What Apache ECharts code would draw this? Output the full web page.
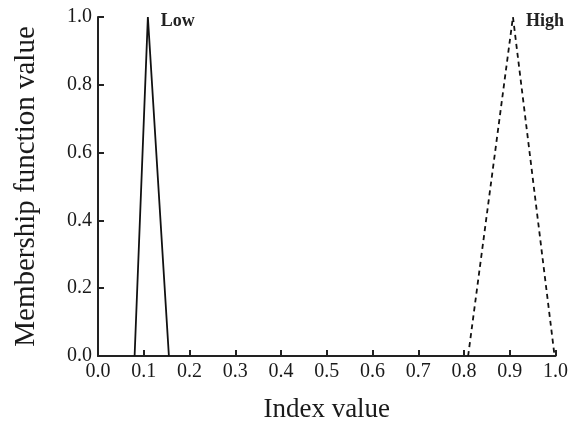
<!DOCTYPE html>
<html><head><meta charset="utf-8">
<script src="https://cdn.jsdelivr.net/npm/echarts@6/dist/echarts.min.js"></script>
<style>html,body{margin:0;padding:0;background:#fff}#c{width:571px;height:428px}</style>
</head><body><div id="c"></div>
<script>
const lowX = [0.08, 0.109, 0.155];
const lowY = [0, 1, 0];
const highX = [0.809, 0.907, 0.998];
const highY = [0, 1, 0];
const seriesNames = ['Low', 'High'];

const font = 'Liberation Serif, Times New Roman, serif';
function pts(xs, ys) { return xs.map((x, i) => [x, ys[i]]); }
function peak(xs, ys, name, dy) {
  const i = ys.indexOf(Math.max(...ys));
  return {
    symbol: 'circle', symbolSize: 0,
    label: { show: true, position: 'right', distance: 13, offset: [0, dy], formatter: name,
             fontFamily: font, fontSize: 18, fontWeight: 'bold', color: '#222' },
    data: [{ coord: [xs[i], ys[i]] }]
  };
}

const chart = echarts.init(document.getElementById('c'));
chart.setOption({
  animation: false,
  grid: { left: 98, right: 13, top: 17, bottom: 72 },
  xAxis: {
    type: 'value', min: 0, max: 1, interval: 0.1,
    name: 'Index value', nameLocation: 'middle', nameGap: 40,
    nameTextStyle: { fontFamily: font, fontSize: 27, color: '#1a1a1a' },
    axisLine: { lineStyle: { color: '#222', width: 2 } },
    axisTick: { inside: true, length: 6, lineStyle: { color: '#222', width: 2 } },
    axisLabel: { fontFamily: font, fontSize: 20, color: '#1a1a1a', margin: 6, formatter: v => v.toFixed(1) },
    splitLine: { show: false }
  },
  yAxis: {
    type: 'value', min: 0, max: 1, interval: 0.2,
    name: 'Membership function value', nameLocation: 'middle', nameGap: 57,
    nameTextStyle: { fontFamily: font, fontSize: 29, color: '#1a1a1a' },
    axisLine: { show: true, lineStyle: { color: '#222', width: 2 } },
    axisTick: { show: true, inside: true, length: 6, lineStyle: { color: '#222', width: 2 } },
    axisLabel: { fontFamily: font, fontSize: 20, color: '#1a1a1a', margin: 6, formatter: v => v.toFixed(1) },
    splitLine: { show: false }
  },
  series: [
    {
      name: seriesNames[0], type: 'line', data: pts(lowX, lowY), symbol: 'none',
      lineStyle: { color: '#111', width: 1.8 },
      markPoint: peak(lowX, lowY, seriesNames[0], 4)
    },
    {
      name: seriesNames[1], type: 'line', data: pts(highX, highY), symbol: 'none',
      lineStyle: { color: '#111', width: 1.8, type: [5, 4] },
      markPoint: peak(highX, highY, seriesNames[1], 4)
    }
  ]
});
</script></body></html>
